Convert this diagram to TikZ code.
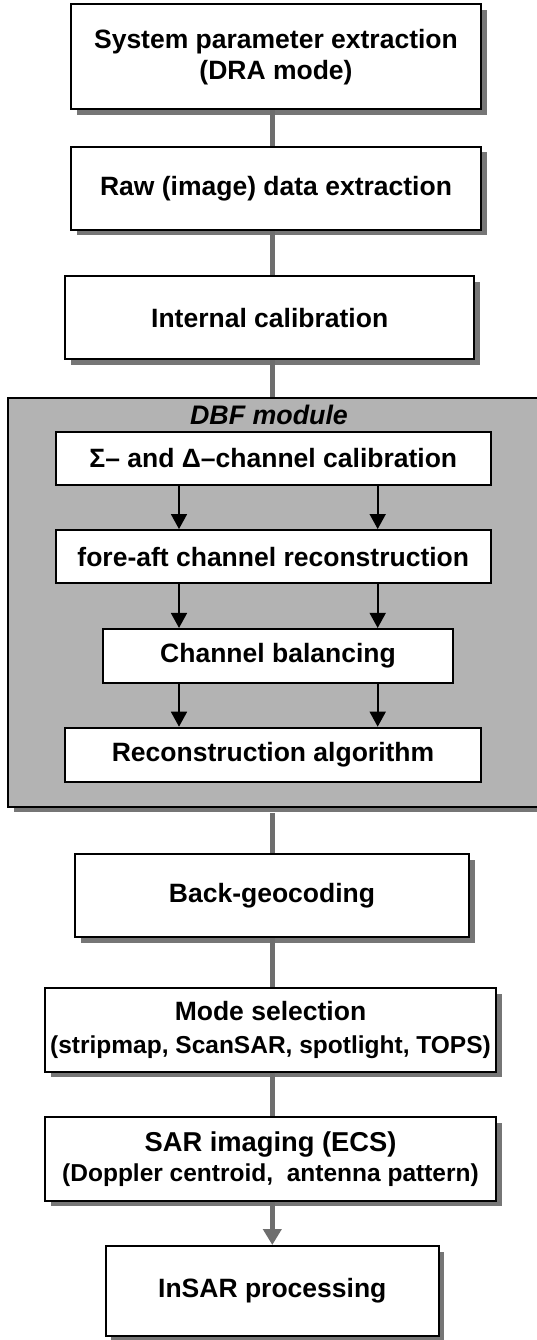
\documentclass[tikz,border=0pt]{standalone}
\usepackage{fontspec}
\setmainfont{Liberation Sans}
\usetikzlibrary{shadows,arrows.meta}
\definecolor{conn}{HTML}{6E6E6E}
\definecolor{shad}{HTML}{767676}
\definecolor{modfill}{HTML}{B3B3B3}
\begin{document}
\begin{tikzpicture}[x=1pt,y=-1pt,
  txt/.style={font=\bfseries\fontsize{26.5}{31}\selectfont},
  box/.style={txt,draw=black,line width=2pt,fill=white,inner sep=0pt,align=center,
    drop shadow={shadow xshift=5.5pt,shadow yshift=-5.5pt,fill=shad,opacity=1}},
  ibox/.style={txt,draw=black,line width=2pt,fill=white,inner sep=0pt,align=center},
  gline/.style={draw=conn,line width=5.5pt},
  garrow/.style={gline,-{Triangle[length=16pt,width=18pt]}},
  barrow/.style={draw=black,line width=1.7pt,-{Triangle[length=15pt,width=16pt]}}
]
\useasboundingbox (0,0) rectangle (537,1340);
\coordinate (ax) at (272.3,0);
\coordinate (lx) at (179,0);
\coordinate (rx) at (377.7,0);

\node[box,minimum width=410pt,minimum height=105.3pt] (sys) at (276,56.7)
  {System parameter extraction\\(DRA mode)};
\node[box,minimum width=410pt,minimum height=83.3pt] (raw) at (276,188.3)
  {Raw (image) data extraction};
\node[box,minimum width=409.3pt,minimum height=83.3pt] (int) at (269.7,317.7)
  {Internal calibration};

\node[draw=black,line width=2pt,fill=modfill,inner sep=0pt,minimum width=537pt,minimum height=409pt,
  drop shadow={shadow xshift=5.5pt,shadow yshift=-5.5pt,fill=shad,opacity=1}] (dbf) at (276.8,602.2) {};
\node[font=\bfseries\itshape\fontsize{26.8}{30}\selectfont] (dbft) at (269,415) {DBF module};

\node[ibox,minimum width=435.3pt,minimum height=53.3pt] (cal) at (273.3,458.3)
  {Σ– and Δ–channel calibration};
\node[ibox,minimum width=435.3pt,minimum height=53.3pt] (fa) at (273.3,556.7)
  {fore-aft channel reconstruction};
\node[ibox,minimum width=350.6pt,minimum height=53.7pt] (bal) at (278,655.8)
  {Channel balancing};
\node[ibox,minimum width=416pt,minimum height=54.6pt] (rec) at (273,755)
  {Reconstruction algorithm};

\node[box,minimum width=394pt,minimum height=83.3pt] (geo) at (272,895.7)
  {Back-geocoding};
\node[box,font=\bfseries\fontsize{26.5}{33}\selectfont,minimum width=451pt,minimum height=83.4pt] (mode) at (270.5,1030)
  {Mode selection\\\fontsize{24.5}{33}\selectfont(stripmap, ScanSAR, spotlight, TOPS)};
\node[box,font=\bfseries\fontsize{27.3}{30.7}\selectfont,minimum width=451pt,minimum height=83.4pt] (sar) at (270.5,1159)
  {SAR imaging (ECS)\\\fontsize{24.5}{30.7}\selectfont(Doppler centroid,\ \ antenna pattern)};
\node[box,minimum width=333.3pt,minimum height=90pt] (insar) at (272.3,1291)
  {InSAR processing};

\draw[gline] (sys.south -| ax) -- (raw.north -| ax);
\draw[gline] (raw.south -| ax) -- (int.north -| ax);
\draw[gline] (int.south -| ax) -- (dbf.north -| ax);
\draw[gline] ([yshift=-5.5pt]dbf.south -| ax) -- (geo.north -| ax);
\draw[gline] (geo.south -| ax) -- (mode.north -| ax);
\draw[gline] (mode.south -| ax) -- (sar.north -| ax);
\draw[garrow] (sar.south -| ax) -- (insar.north -| ax);

\draw[barrow] (cal.south -| lx) -- (fa.north -| lx);
\draw[barrow] (cal.south -| rx) -- (fa.north -| rx);
\draw[barrow] (fa.south -| lx) -- (bal.north -| lx);
\draw[barrow] (fa.south -| rx) -- (bal.north -| rx);
\draw[barrow] (bal.south -| lx) -- (rec.north -| lx);
\draw[barrow] (bal.south -| rx) -- (rec.north -| rx);
\end{tikzpicture}
\end{document}
